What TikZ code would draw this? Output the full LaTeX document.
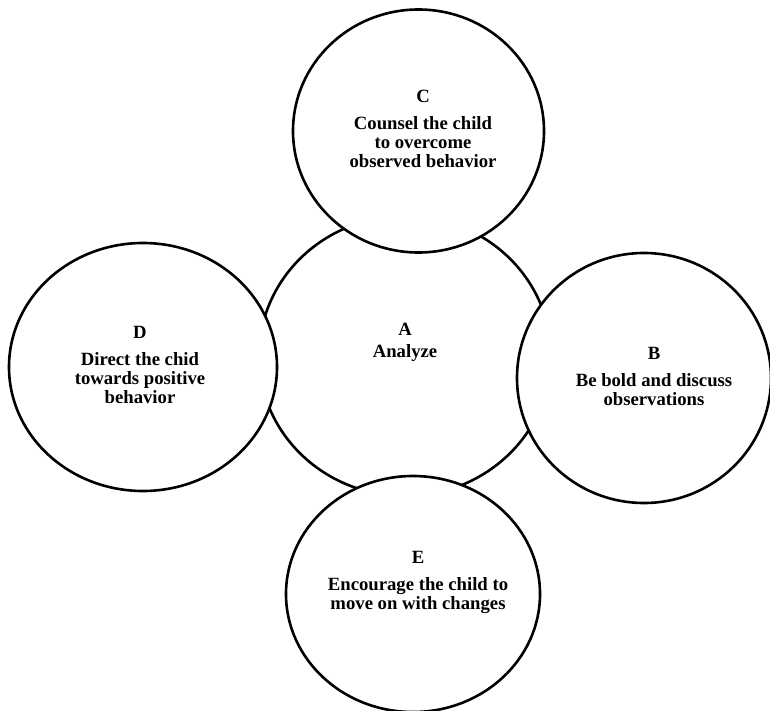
\documentclass[tikz,border=0pt]{standalone}
\usepackage{fontspec}
\setmainfont{Liberation Serif}
\usetikzlibrary{shapes.geometric}
\begin{document}
\begin{tikzpicture}[x=1pt,y=-1pt,
  bubble/.style={ellipse, draw=black, line width=2.6pt, fill=white, inner sep=0pt},
  caption/.style={align=center, font=\bfseries\fontsize{18.7}{19}\selectfont, text=black, inner sep=0pt}]
\useasboundingbox (0,0) rectangle (770,711);
% centre circle first, the others overlap it
\node[bubble, minimum width=292pt, minimum height=280pt] (A) at (405,356) {};
\node[bubble, minimum width=251pt, minimum height=243pt] (C) at (418.5,131) {};
\node[bubble, minimum width=268pt, minimum height=248pt] (D) at (143,367) {};
\node[bubble, minimum width=254pt, minimum height=250pt] (B) at (644,378) {};
\node[bubble, minimum width=254pt, minimum height=236pt] (E) at (413,594) {};
% texts
\node[caption] (tA) at (405,342) {A\\[3pt]Analyze};
\node[caption] (tC) at (423,129) {C\\[8pt]Counsel the child\\to overcome\\observed behavior};
\node[caption] (tD) at (140,364.5) {D\\[8pt]Direct the chid\\towards positive\\behavior};
\node[caption] (tB) at (654,376) {B\\[8pt]Be bold and discuss\\observations};
\node[caption] (tE) at (418,582) {E\\[8pt]Encourage the child to\\move on with changes};
\end{tikzpicture}
\end{document}
